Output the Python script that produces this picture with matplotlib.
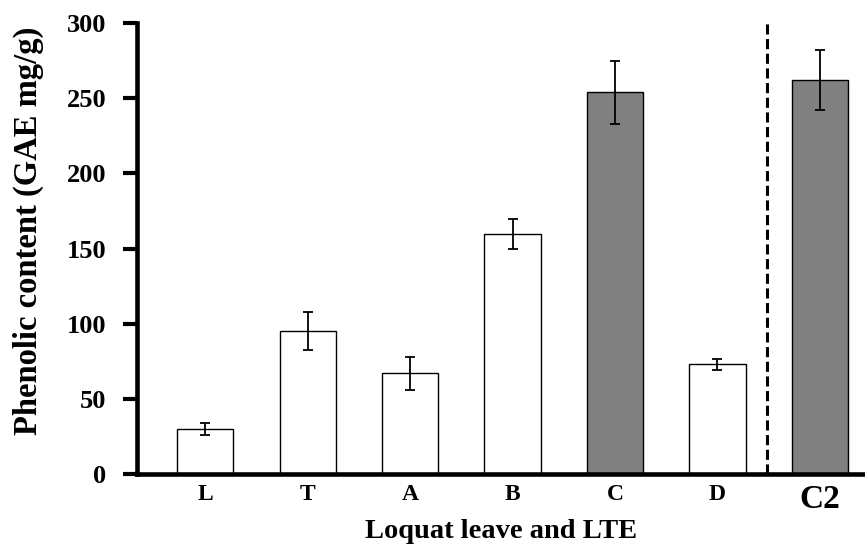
import matplotlib.pyplot as plt

plt.rcParams['font.family'] = ['Liberation Serif', 'DejaVu Serif']
plt.rcParams['font.weight'] = 'bold'

labels = ['L', 'T', 'A', 'B', 'C', 'D', 'C2']
values = [30, 95, 67, 160, 254, 73, 262]
errors = [4, 12.5, 11, 10, 21, 3.5, 20]
colors = ['white', 'white', 'white', 'white', 'gray', 'white', 'gray']
yticks = [0, 50, 100, 150, 200, 250, 300]

fig = plt.figure(figsize=(8.65, 5.53), dpi=100)
ax = fig.add_axes([0.158, 0.143, 0.842, 0.815])

x = list(range(len(labels)))
ax.bar(x, values, width=0.55, color=colors, edgecolor='black', linewidth=1.0,
       yerr=errors, capsize=3.5, error_kw={'elinewidth': 1.3, 'capthick': 1.3, 'ecolor': 'black'})

# separator before C2
ax.plot([5.48, 5.48], [0, 300], color='black', linewidth=2.2, linestyle=(0, (3.3, 1.5)))

ax.set_xlim(-0.67, 6.44)
ax.set_ylim(0, 300)
ax.set_yticks(yticks)
ax.set_yticklabels([str(v) for v in yticks], fontsize=19, fontweight='bold')
ax.set_xticks(x)
ax.set_xticklabels(labels, fontsize=17, fontweight='bold')
ax.get_xticklabels()[-1].set_fontsize(24)

ax.spines['top'].set_visible(False)
ax.spines['right'].set_visible(False)
ax.spines['left'].set_linewidth(3.3)
ax.spines['bottom'].set_linewidth(3.3)
ax.tick_params(axis='y', length=10, width=3, pad=12, direction='out')
ax.tick_params(axis='x', length=0, pad=7)

ax.set_ylabel('Phenolic content (GAE mg/g)', fontsize=23.5, fontweight='bold')
ax.yaxis.set_label_coords(-0.127, 0.54)
ax.set_xlabel('Loquat leave and LTE', fontsize=20.5, fontweight='bold', labelpad=3)

fig.savefig('out.png', dpi=100)
